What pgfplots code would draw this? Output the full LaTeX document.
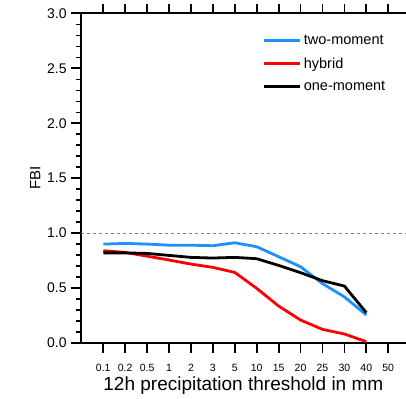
\documentclass[border=0pt]{standalone}
\usepackage{pgfplots}
\pgfplotsset{compat=1.18}
\usepackage{fontspec}
\setmainfont{Liberation Sans}
\definecolor{tmblue}{RGB}{30,144,255}
\begin{document}
\begin{tikzpicture}
\path[use as bounding box] (-80.7pt,-55pt) rectangle (325.3pt,343pt);
\begin{axis}[
  scale only axis,
  width=325.3pt, height=329.7pt,
  at={(0,0)}, anchor=south west,
  xmin=-1.03, xmax=13.81, ymin=0, ymax=3,
  axis x line*=box, axis y line*=left,
  tick align=outside,
  xtick={0,1,2,3,4,5,6,7,8,9,10,11,12,13},
  xticklabels={0.1,0.2,0.5,1,2,3,5,10,15,20,25,30,40,50},
  ytick={0,0.5,1,1.5,2,2.5,3},
  minor y tick num=4,
  major tick length=9.5pt, minor tick length=4.5pt,
  major tick style={black, line width=1.8pt},
  minor tick style={black, line width=1.4pt},
  axis line style={line width=1.8pt},
  /pgf/number format/assume math mode=true,
  yticklabel style={/pgf/number format/fixed, /pgf/number format/fixed zerofill, /pgf/number format/precision=1},
  yticklabel style={font=\fontsize{14}{16}\selectfont, xshift=-1pt},
  xticklabel style={font=\fontsize{10.5}{12}\selectfont, yshift=-8pt},
  xlabel={12h precipitation threshold in mm},
  ylabel={FBI},
  xlabel style={font=\fontsize{19}{21}\selectfont, yshift=2pt},
  ylabel style={font=\fontsize{15}{17}\selectfont},
  legend style={draw=none, fill=none, at={(0.56,0.94)}, anchor=north west,
    font=\fontsize{14.5}{16}\selectfont, row sep=7.5pt, inner sep=0pt},
  legend cell align=left,
  legend image code/.code={\draw[#1, line width=2.8pt] (0pt,0pt) -- (32pt,0pt); \path (0pt,0pt) -- (36pt,0pt);},
  clip=false,
]
\addplot[gray, dashed, line width=1pt, forget plot] coordinates {(-1.03,1) (13.81,1)};
\addplot[tmblue, line width=2.8pt] coordinates {
(0,0.90) (1,0.906) (2,0.90) (3,0.89) (4,0.89) (5,0.885) (6,0.912) (7,0.876) (8,0.785) (9,0.694) (10,0.54) (11,0.42) (12,0.255)};
\addlegendentry{two-moment}
\addplot[red, line width=2.8pt] coordinates {
(0,0.84) (1,0.824) (2,0.79) (3,0.755) (4,0.718) (5,0.688) (6,0.642) (7,0.497) (8,0.336) (9,0.209) (10,0.124) (11,0.082) (12,0.012)};
\addlegendentry{hybrid}
\addplot[black, line width=2.8pt] coordinates {
(0,0.82) (1,0.82) (2,0.815) (3,0.797) (4,0.779) (5,0.773) (6,0.779) (7,0.767) (8,0.706) (9,0.64) (10,0.567) (11,0.518) (12,0.276)};
\addlegendentry{one-moment}
\end{axis}
\end{tikzpicture}
\end{document}
